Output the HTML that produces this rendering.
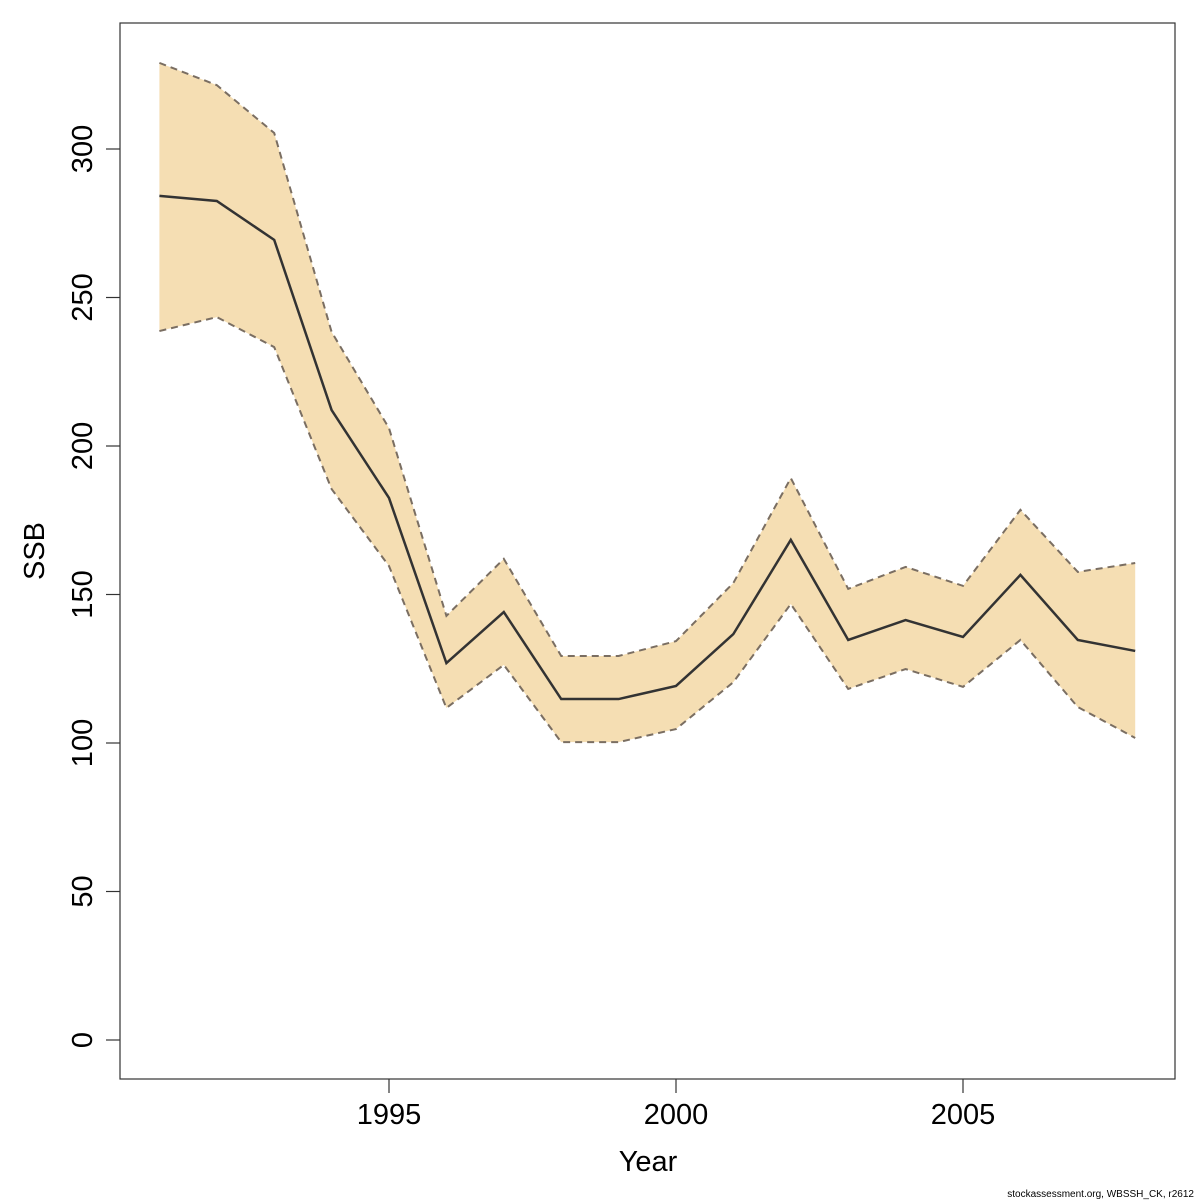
<!DOCTYPE html>
<html><head><meta charset="utf-8">
<style>html,body{margin:0;padding:0;background:#fff;}svg{display:block;font-family:"Liberation Sans","DejaVu Sans",sans-serif;}</style>
</head><body>
<svg id="chart" width="1200" height="1200" viewBox="0 0 1200 1200"></svg>
<script>
const years = [1991,1992,1993,1994,1995,1996,1997,1998,1999,2000,2001,2002,2003,2004,2005,2006,2007,2008];
const ssb = [284.2,282.5,269.4,212.1,182.5,126.9,144.1,114.8,114.8,119.2,136.7,168.4,134.7,141.4,135.7,156.6,134.7,131.0];
const upper = [329,321.5,305.4,238.4,206,142.8,162,129.3,129.3,134.3,153.9,189.2,151.9,159.3,152.9,178.5,157.6,160.6];
const lower = [238.7,243.4,233.3,185.5,159.6,111.8,126.3,100.3,100.3,104.7,120.5,146.8,118.2,124.9,118.9,134.7,112.1,101.7];
const xTicks = [1995,2000,2005];
const yTicks = [0,50,100,150,200,250,300];

const NS="http://www.w3.org/2000/svg";
const svg=document.getElementById('chart');
const X=v=>389+(v-1995)*57.4;
const Y=v=>1040-v*2.97;
function mk(tag,attrs,parent){const e=document.createElementNS(NS,tag);for(const k in attrs)e.setAttribute(k,attrs[k]);(parent||svg).appendChild(e);return e;}

// band
let pts=years.map((y,i)=>X(y)+','+Y(upper[i]));
pts=pts.concat(years.slice().reverse().map((y,j)=>{const i=years.length-1-j;return X(y)+','+Y(lower[i]);}));
const band=mk('polygon',{points:pts.join(' '),fill:'#f5deb3',stroke:'none'});


const up=mk('polyline',{points:years.map((y,i)=>X(y)+','+Y(upper[i])).join(' '),fill:'none',stroke:'#7a6e62','stroke-width':2,'stroke-dasharray':'7,5'});


const lo=mk('polyline',{points:years.map((y,i)=>X(y)+','+Y(lower[i])).join(' '),fill:'none',stroke:'#7a6e62','stroke-width':2,'stroke-dasharray':'7,5'});


const ln=mk('polyline',{points:years.map((y,i)=>X(y)+','+Y(ssb[i])).join(' '),fill:'none',stroke:'#333','stroke-width':2.5});



// box
const box=mk('rect',{x:120,y:23,width:1055,height:1056,fill:'none',stroke:'#333','stroke-width':1.2});



xTicks.forEach(t=>{
  mk('line',{x1:X(t),x2:X(t),y1:1079,y2:1093,stroke:'#333','stroke-width':1.2});
  const tx=mk('text',{x:X(t),y:1124,'font-size':29,'text-anchor':'middle',fill:'#000'});
  tx.textContent=t;
  
  
});
yTicks.forEach(t=>{
  mk('line',{x1:106,x2:120,y1:Y(t),y2:Y(t),stroke:'#333','stroke-width':1.2});
  const tx=mk('text',{x:0,y:0,'font-size':29,'text-anchor':'middle',fill:'#000',transform:`translate(92,${Y(t)}) rotate(-90)`});
  tx.textContent=t;
  
  
});
const xt=mk('text',{x:648,y:1171,'font-size':29,'text-anchor':'middle',fill:'#000'});
xt.textContent='Year';


const yt=mk('text',{x:0,y:0,'font-size':29,'text-anchor':'middle',fill:'#000',transform:'translate(44,551) rotate(-90)'});
yt.textContent='SSB';


const cr=mk('text',{x:1194,y:1197,'font-size':10,'text-anchor':'end',fill:'#000'});
cr.textContent='stockassessment.org, WBSSH_CK, r2612';


</script>
</body></html>
